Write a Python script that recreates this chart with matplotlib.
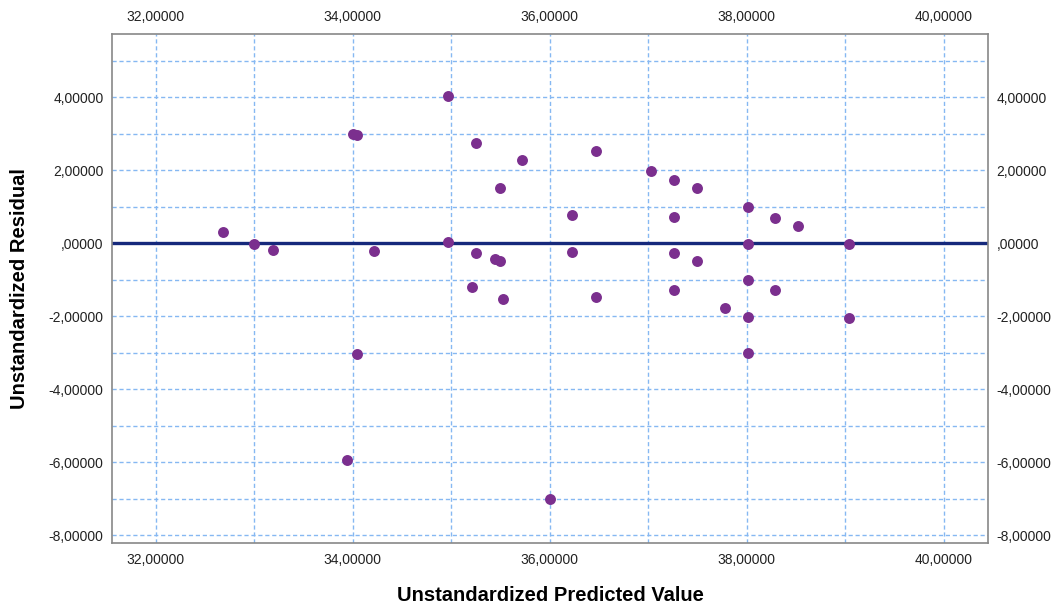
import numpy as np
import matplotlib.pyplot as plt
from matplotlib.ticker import FuncFormatter, MultipleLocator

plt.rcParams['font.family'] = ['Liberation Sans', 'DejaVu Sans']

# predicted values / residuals
pred = [32.68, 33.00, 33.19, 34.00, 34.04, 34.22, 34.04, 33.94,
        34.97, 34.97, 35.25, 35.25, 35.21, 35.44, 35.49, 35.49, 35.53,
        35.72, 36.00, 36.23, 36.23, 36.47, 36.47, 37.03, 37.26, 37.26,
        37.26, 37.26, 37.50, 37.50, 37.78, 38.01, 38.01, 38.01, 38.01,
        38.01, 38.29, 38.29, 38.52, 39.04, 39.04]
resid = [0.31, -0.01, -0.19, 3.00, 2.96, -0.22, -3.04, -5.95,
         4.03, 0.03, 2.74, -0.26, -1.21, -0.44, -0.49, 1.51, -1.53,
         2.27, -7.00, 0.76, -0.23, 2.53, -1.47, 1.97, 1.73, 0.73,
         -0.26, -1.27, 1.51, -0.50, -1.78, 0.99, -0.01, -1.01, -2.01,
         -3.01, 0.70, -1.29, 0.47, -0.03, -2.04]

fig = plt.figure(figsize=(10.53, 6.06), dpi=100)
ax = fig.add_axes([0.1064, 0.104, 0.8319, 0.8399])

ax.set_xlim(31.556, 40.45)
ax.set_ylim(-8.21, 5.73)

ax.xaxis.set_major_locator(MultipleLocator(2))
ax.xaxis.set_minor_locator(MultipleLocator(1))
ax.yaxis.set_major_locator(MultipleLocator(2))
ax.yaxis.set_minor_locator(MultipleLocator(1))

def fmt(v, pos):
    s = '%.5f' % v
    s = s.replace('.', ',')
    if s.startswith('0,'):
        s = s[1:]
    if s.startswith('-0,') and abs(v) < 1e-9:
        s = s[2:]
    return s

ax.xaxis.set_major_formatter(FuncFormatter(fmt))
ax.yaxis.set_major_formatter(FuncFormatter(fmt))

ax.grid(which='both', color='#86b8f2', linestyle=(0, (3, 2)), linewidth=1)
ax.set_axisbelow(True)

ax.axhline(0, color='#16297c', linewidth=2.4, zorder=2)
ax.scatter(pred, resid, s=62, color='#7b2f8e', zorder=3, linewidths=0)

ax.tick_params(which='both', length=0, labelsize=10, colors='#222222',
               top=True, labeltop=True, right=True, labelright=True)
ax.tick_params(axis='x', pad=7)
ax.tick_params(axis='y', pad=6)

for s in ax.spines.values():
    s.set_color('#888888')
    s.set_linewidth(1.2)

ax.set_xlabel('Unstandardized Predicted Value', fontsize=14.5, fontweight='bold', labelpad=14)
ax.set_ylabel('Unstandardized Residual', fontsize=14.5, fontweight='bold', labelpad=14)

fig.savefig('out.png', dpi=100)
